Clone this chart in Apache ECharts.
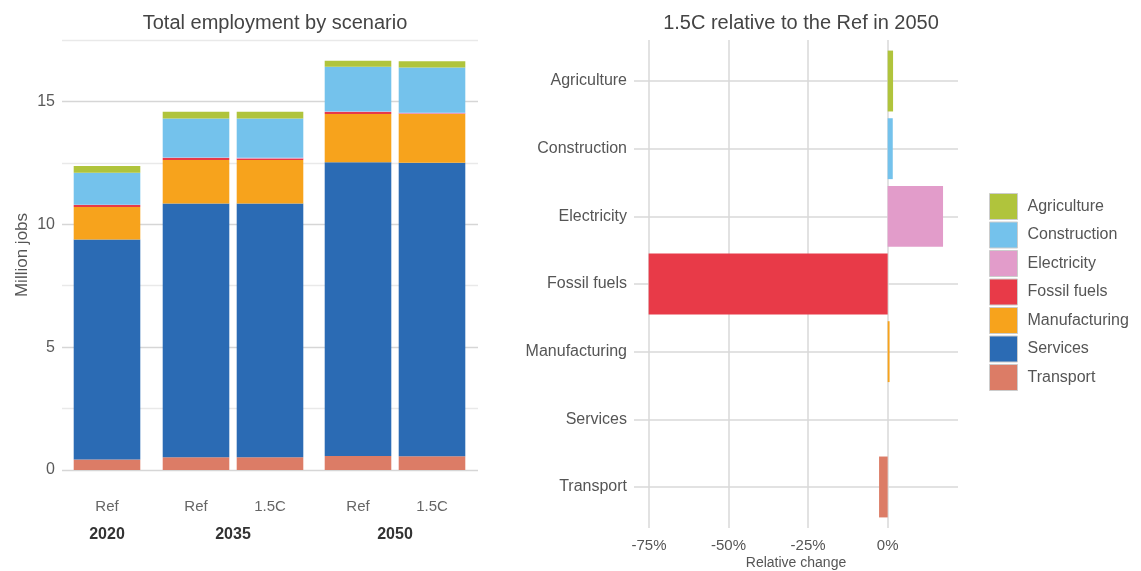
<!DOCTYPE html>
<html>
<head>
<meta charset="utf-8">
<script src="https://cdn.jsdelivr.net/npm/echarts@6/dist/echarts.min.js"></script>
<style>
html,body{margin:0;padding:0;background:#fff;}
#chart{width:1141px;height:571px;}
</style>
</head>
<body>
<div id="chart"></div>
<script>
// ---------- DATA ----------
const sectors = ['Agriculture','Construction','Electricity','Fossil fuels','Manufacturing','Services','Transport'];
const colors  = ['#b0c43c','#74c2ec','#e29cca','#e83a48','#f7a31c','#2b6bb4','#dc7c66'];
// bar order in the left chart: 2020 Ref, 2035 Ref, 2035 1.5C, 2050 Ref, 2050 1.5C
const years = ['2020','2035','2050'];
const scenariosByYear = [['Ref'],['Ref','1.5C'],['Ref','1.5C']];
const agriculture   = [0.27, 0.27, 0.27, 0.25, 0.25];
const construction  = [1.30, 1.59, 1.60, 1.82, 1.85];
const electricity   = [0.02, 0.02, 0.03, 0.02, 0.03];
const fossilFuels   = [0.08, 0.08, 0.06, 0.08, 0.02];
const manufacturing = [1.32, 1.77, 1.77, 1.97, 1.98];
const services      = [8.95, 10.33, 10.33, 11.95, 11.95];
const transport     = [0.43, 0.52, 0.52, 0.57, 0.555];
// relative change 1.5C vs Ref in 2050 (%)
const relChange = [1.7, 1.6, 17.4, -75.1, 0.6, 0.0, -2.7];
const yTicks = [0, 5, 10, 15];
const xTicks = [-75, -50, -25, 0];

const values = {
  'Agriculture': agriculture, 'Construction': construction, 'Electricity': electricity,
  'Fossil fuels': fossilFuels, 'Manufacturing': manufacturing, 'Services': services, 'Transport': transport
};
const stackOrder = ['Transport','Services','Manufacturing','Fossil fuels','Electricity','Construction','Agriculture'];
const colorOf = {}; sectors.forEach((s,i)=>colorOf[s]=colors[i]);

const FONT = 'Liberation Sans';
const GRID_COLOR = '#d9d9d9';

// ---------- LAYOUT ----------
const grids = [
  {left: 62, top: 40, width: 416, height: 430},   // 0 background left
  {left: 70, top: 40, width: 74, height: 430},    // 1 2020
  {left: 159, top: 40, width: 148, height: 430},  // 2 2035
  {left: 321, top: 40, width: 148, height: 430},  // 3 2050
  {left: 634, top: 47.2, width: 324, height: 473.6}, // 4 right bars
  {left: 634, top: 40, width: 324, height: 488}   // 5 right background
].map(g => Object.assign(g, {outerBoundsMode:'none', containLabel:false}));

const xAxes = [], yAxes = [], series = [];
// background left
xAxes.push({gridIndex:0, type:'value', min:0, max:1, show:false});
yAxes.push({gridIndex:0, type:'value', min:0, max:17.5, interval:2.5,
  axisLine:{show:false}, axisTick:{show:false},
  axisLabel:{color:'#5a5a5a', fontSize:16, fontFamily:FONT, margin:7,
    formatter: v => yTicks.indexOf(v) >= 0 ? String(v) : ''},
  splitLine:{lineStyle:{color:['#d6d6d6','#e9e9e9'], width:1.3}},
  name:'Million jobs', nameLocation:'middle', nameGap:31, nameRotate:90,
  nameTextStyle:{color:'#555', fontSize:17, fontFamily:FONT}
});

// bar facets
let offset = 0;
years.forEach((yr, gi) => {
  const g = gi + 1;
  const n = scenariosByYear[gi].length;
  xAxes.push({gridIndex:g, type:'category', data:scenariosByYear[gi],
    axisLine:{show:false}, axisTick:{show:false},
    axisLabel:{color:'#666', fontSize:15, fontFamily:FONT, margin:29},
    name: yr, nameLocation:'middle', nameGap:57,
    nameTextStyle:{color:'#333', fontSize:16, fontWeight:'bold', fontFamily:FONT}
  });
  yAxes.push({gridIndex:g, type:'value', min:0, max:17.5, show:false, splitLine:{show:false}});
  stackOrder.forEach(s => {
    series.push({name:s, type:'bar', xAxisIndex:g, yAxisIndex:g, stack:'tot'+g,
      barCategoryGap:'10%', itemStyle:{color:colorOf[s]},
      data: values[s].slice(offset, offset+n)});
  });
  offset += n;
});

// right chart
xAxes.push({gridIndex:4, type:'value', min:-79.7, max:22.1,
  axisLine:{show:false}, axisTick:{show:false}, splitLine:{show:false},
  axisLabel:{show:false}});
yAxes.push({gridIndex:4, type:'category', data:sectors, inverse:true,
  axisLine:{show:false}, axisTick:{show:false}, splitLine:{show:false},
  axisLabel:{color:'#555', fontSize:16, fontFamily:FONT, margin:7}});
xAxes.push({gridIndex:5, type:'value', min:-79.7, max:22.1,
  axisLine:{show:false}, axisTick:{show:false}, splitLine:{show:false},
  axisLabel:{color:'#555', fontSize:15, fontFamily:FONT, margin:10,
    customValues: xTicks, formatter: v => v + '%'},
  name:'Relative change', nameLocation:'middle', nameGap:28, nameMoveOverlap:false,
  nameTextStyle:{color:'#555', fontSize:14, fontFamily:FONT}});
yAxes.push({gridIndex:5, type:'value', min:0, max:1, show:false});

// gridlines for right chart (behind bars)
series.push({type:'line', xAxisIndex:5, yAxisIndex:5, data:[], z:0, silent:true,
  markLine:{silent:true, z:0, symbol:['none','none'], label:{show:false},
    lineStyle:{color:GRID_COLOR, width:1.5, type:'solid'},
    data: xTicks.map(v => ({xAxis: v}))}});
series.push({type:'line', xAxisIndex:4, yAxisIndex:4, data:[], z:0, silent:true,
  markLine:{silent:true, z:0, symbol:['none','none'], label:{show:false},
    lineStyle:{color:GRID_COLOR, width:1.5, type:'solid'},
    data: sectors.map(s => ({yAxis: s}))}});

sectors.forEach((s, i) => {
  series.push({name:s, type:'bar', xAxisIndex:4, yAxisIndex:4, stack:'rel', z:10,
    barCategoryGap:'10%', itemStyle:{color:colorOf[s]},
    data: sectors.map((c, j) => j === i ? relChange[i] : '-')});
});

const option = {
  backgroundColor:'#fff',
  animation:false,
  title:[
    {text:'Total employment by scenario', left:270, top:8, textAlign:'center',
      textStyle:{color:'#444', fontSize:20, fontWeight:'normal', fontFamily:FONT}},
    {text:'1.5C relative to the Ref in 2050', left:796, top:8, textAlign:'center',
      textStyle:{color:'#444', fontSize:20, fontWeight:'normal', fontFamily:FONT}}
  ],
  legend:{data:sectors, orient:'vertical', left:989, top:193, padding:0,
    itemWidth:28, itemHeight:26, itemGap:1.5, icon:'rect',
    itemStyle:{borderColor:'#cccccc', borderWidth:1},
    textStyle:{color:'#555', fontSize:16, fontFamily:FONT, padding:[0,0,0,5]}},
  grid: grids,
  xAxis: xAxes,
  yAxis: yAxes,
  series: series
};
const chart = echarts.init(document.getElementById('chart'), null, {renderer:'canvas'});
chart.setOption(option);
</script>
</body>
</html>
